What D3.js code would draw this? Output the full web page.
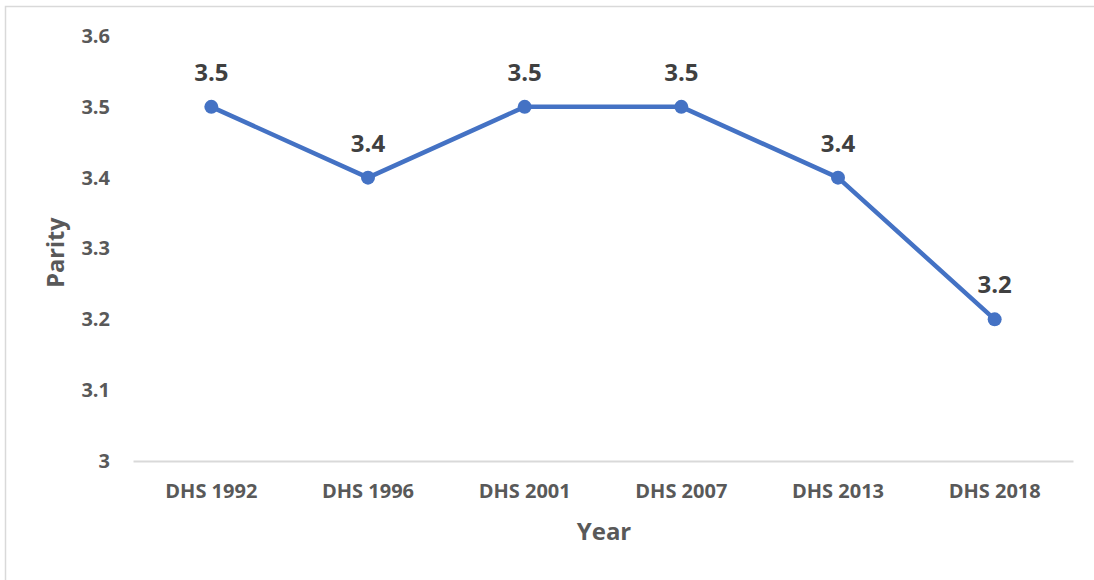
<!DOCTYPE html>
<html>
<head>
<meta charset="utf-8">
<script src="https://cdn.jsdelivr.net/npm/d3@7"></script>
<style>
  html, body { margin: 0; padding: 0; background: #fff; }
  svg { display: block; }
  text { font-family: "Open Sans", "Liberation Sans", sans-serif; font-weight: 700; }
</style>
</head>
<body>
<svg id="chart" width="1094" height="580"></svg>
<script>
// Mean parity by survey round
const surveys = ["DHS 1992", "DHS 1996", "DHS 2001", "DHS 2007", "DHS 2013", "DHS 2018"];
const parity = [3.5, 3.4, 3.5, 3.5, 3.4, 3.2];
const yTicks = [3, 3.1, 3.2, 3.3, 3.4, 3.5, 3.6];

const svg = d3.select("#chart");
const W = 1094, H = 580;
const margin = { left: 133, right: 21, top: 36, bottom: 119 };

// Chart area frame (open on the right and bottom edges of the view)
svg.append("rect")
  .attr("x", 5.5).attr("y", 6.5)
  .attr("width", 1200).attr("height", 700)
  .attr("fill", "#fff").attr("stroke", "#d9d9d9").attr("stroke-width", 1.5);

const x = d3.scaleBand().domain(surveys).range([margin.left, W - margin.right]);
const y = d3.scaleLinear().domain([3, 3.6]).range([H - margin.bottom, margin.top]);

// Bottom axis
const xAxis = svg.append("g")
  .attr("transform", `translate(0,${y(3)})`)
  .call(d3.axisBottom(x).tickSize(0).tickPadding(23));
xAxis.select(".domain").attr("stroke", "#d9d9d9").attr("stroke-width", 2);
xAxis.selectAll("text")
  .attr("fill", "#595959").style("font-size", "20px")
  .style("font-family", "'Open Sans', sans-serif").style("font-weight", 700);

// Left axis (labels only)
const yAxis = svg.append("g")
  .attr("transform", `translate(${margin.left},0)`)
  .call(d3.axisLeft(y).tickValues(yTicks).tickFormat(d3.format("")).tickSize(0).tickPadding(23));
yAxis.select(".domain").remove();
yAxis.selectAll("text")
  .attr("fill", "#595959").style("font-size", "20px")
  .style("font-family", "'Open Sans', sans-serif").style("font-weight", 700);

// Axis titles
svg.append("text")
  .attr("transform", `translate(64,${(y(3) + y(3.6)) / 2 + 4}) rotate(-90)`)
  .attr("text-anchor", "middle").attr("fill", "#595959")
  .style("font-size", "23.5px").text("Parity");

svg.append("text")
  .attr("x", (margin.left + W - margin.right) / 2 + 1).attr("y", 540)
  .attr("text-anchor", "middle").attr("fill", "#595959")
  .style("font-size", "24px").text("Year");

// Series line
const cx = d => x(d) + x.bandwidth() / 2;
const line = d3.line().x((d, i) => cx(surveys[i])).y(d => y(d));
svg.append("path")
  .datum(parity)
  .attr("d", line)
  .attr("fill", "none").attr("stroke", "#4472c4")
  .attr("stroke-width", 4.5).attr("stroke-linejoin", "round");

// Markers
svg.selectAll("circle.pt")
  .data(parity).join("circle")
  .attr("class", "pt")
  .attr("cx", (d, i) => cx(surveys[i])).attr("cy", d => y(d))
  .attr("r", 7).attr("fill", "#4472c4");

// Value labels
svg.selectAll("text.val")
  .data(parity).join("text")
  .attr("class", "val")
  .attr("x", (d, i) => cx(surveys[i])).attr("y", d => y(d) - 26)
  .attr("text-anchor", "middle").attr("fill", "#404040")
  .style("font-size", "24px")
  .text(d => d3.format(".1f")(d));
</script>
</body>
</html>
